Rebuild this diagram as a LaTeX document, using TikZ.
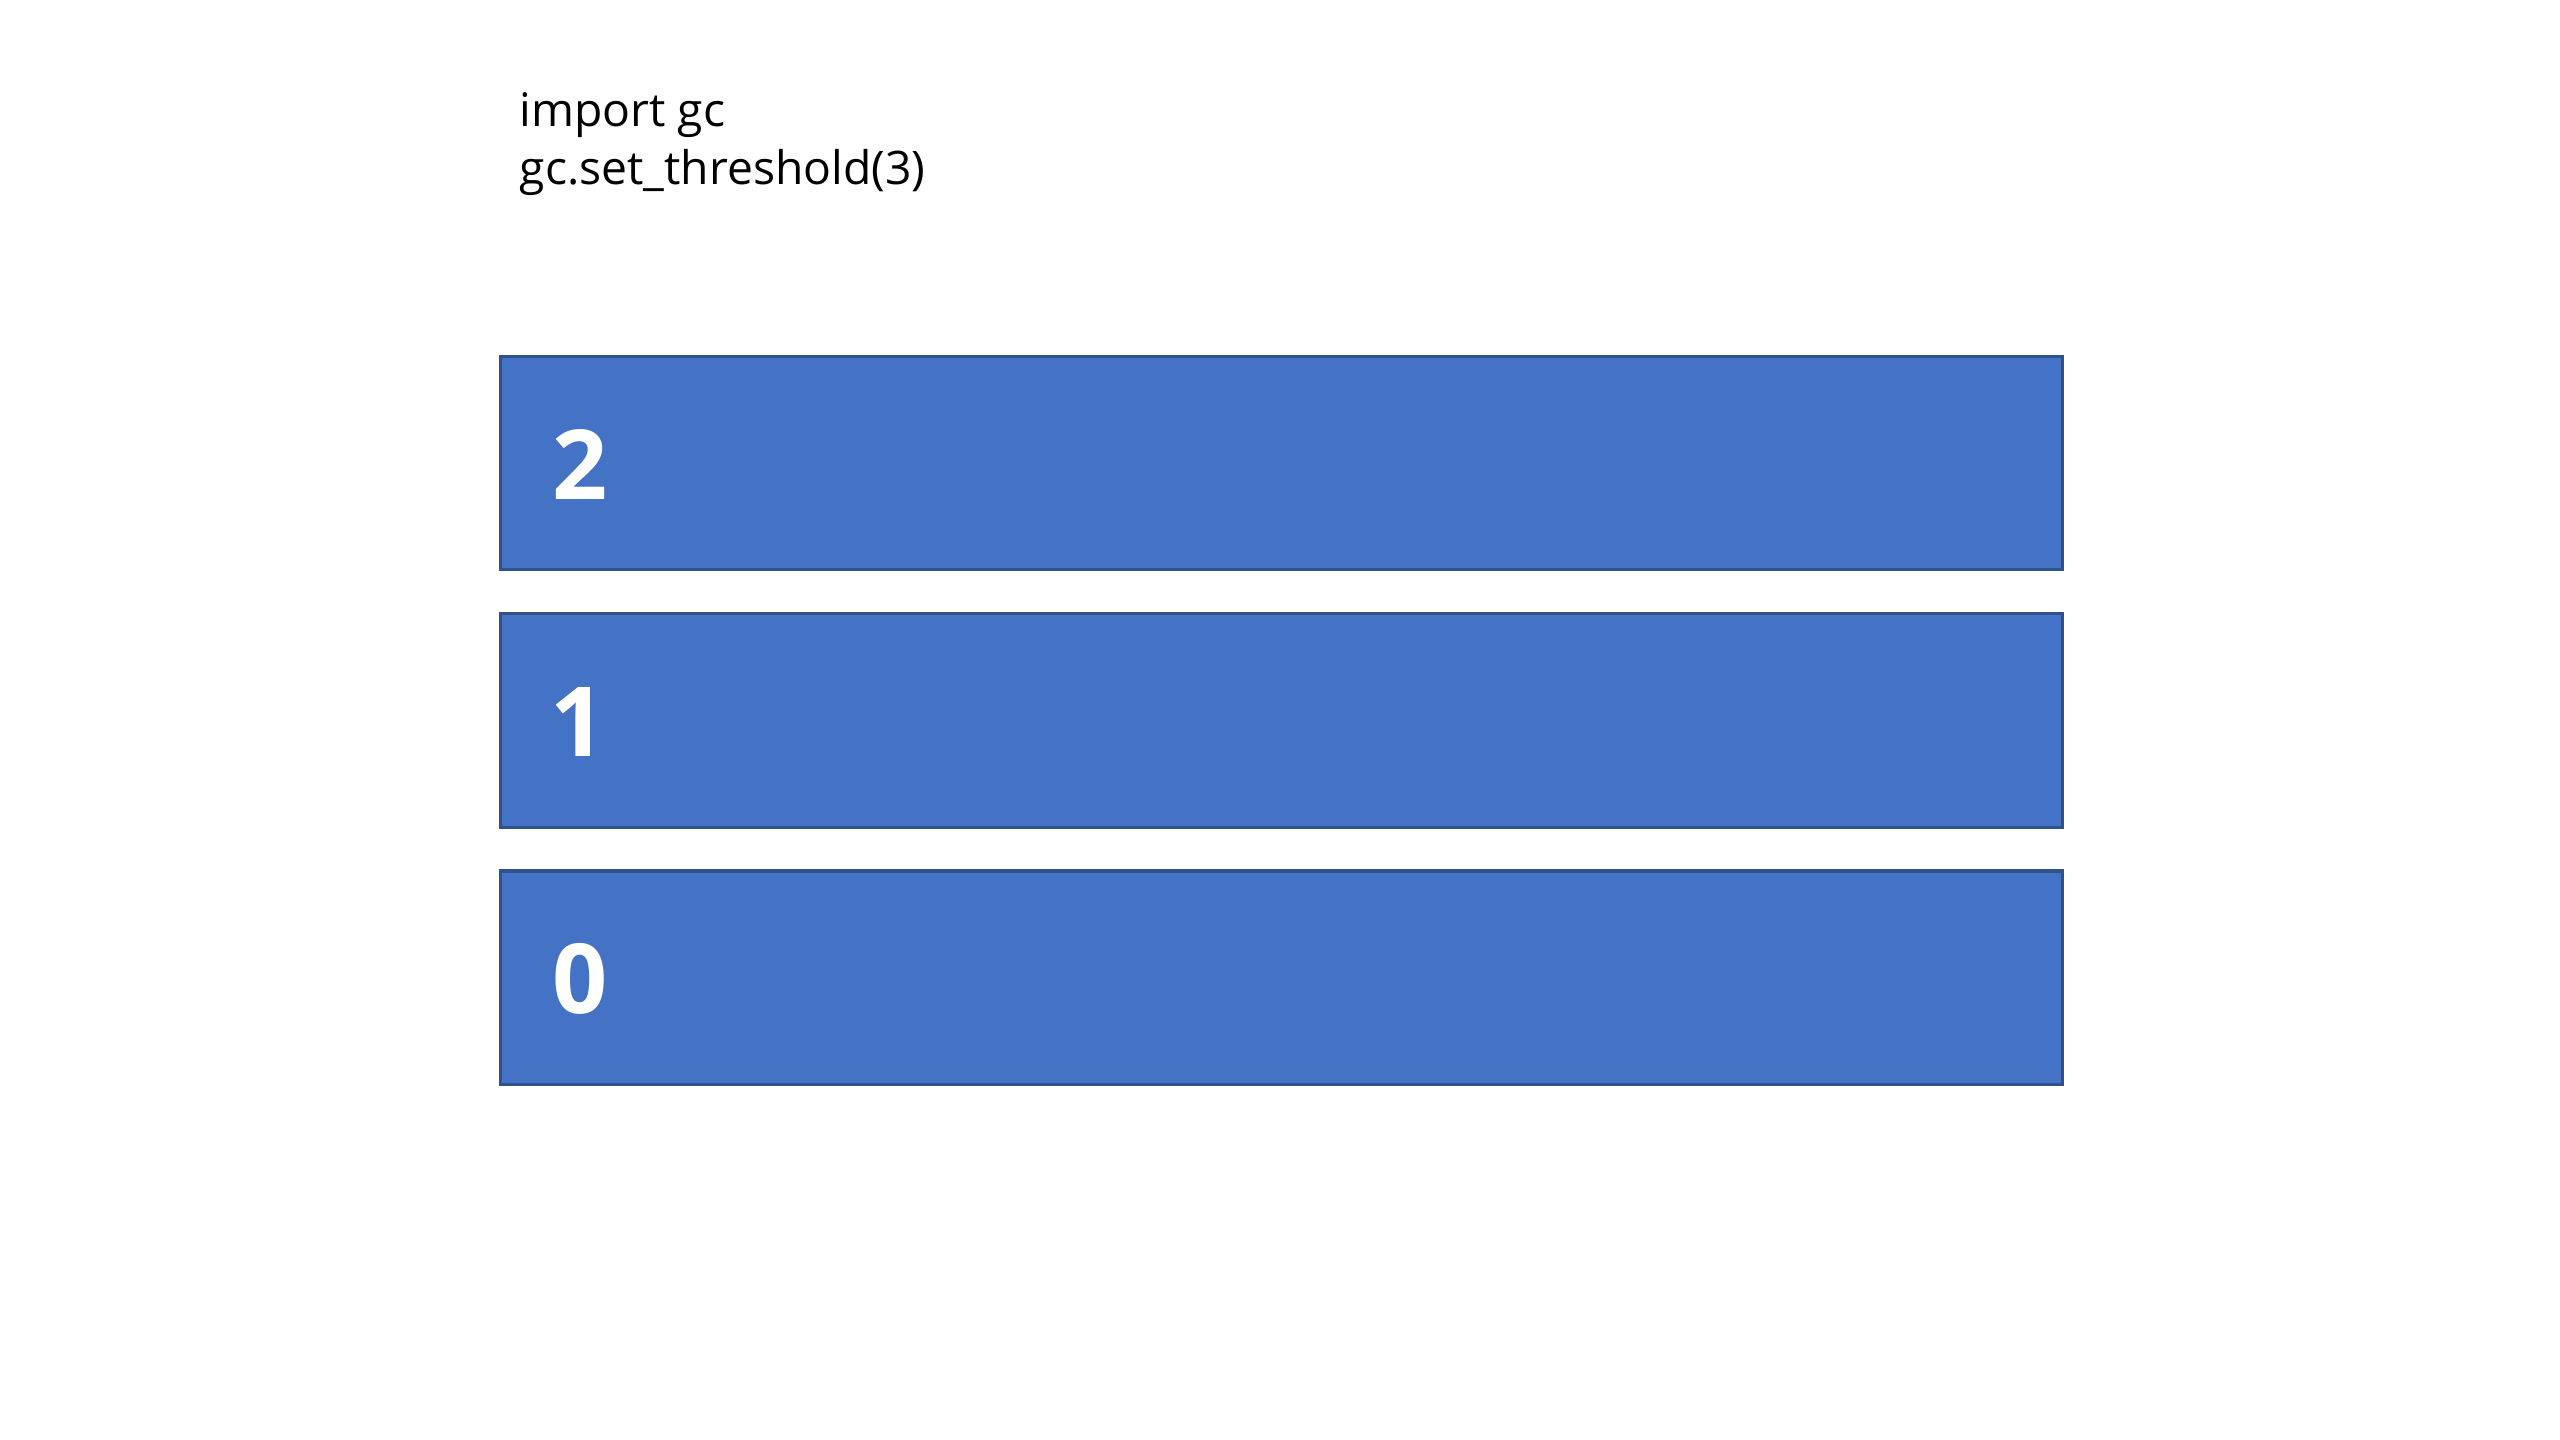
\documentclass[tikz,border=0pt]{standalone}
\usepackage{fontspec}
\setmainfont{Open Sans}
\definecolor{boxfill}{HTML}{4472C4}
\definecolor{boxline}{HTML}{2F528F}
\begin{document}
\begin{tikzpicture}[x=0.01cm,y=-0.01cm,
  stackbox/.style={draw=boxline,fill=boxfill,line width=0.03cm},
  digit/.style={text=white,font=\fontsize{27.5}{33}\selectfont\bfseries,inner sep=0},
  code/.style={anchor=base west,inner sep=0,font=\fontsize{13.15}{18}\selectfont}]
\useasboundingbox[fill=white] (0,0) rectangle (2560,1440);
\node[code] (code1) at (519,127) {import gc};
\node[code] (code2) at (519,185) {gc.set\_threshold(3)};
\draw[stackbox] (500,357) rectangle (2062,570);
\draw[stackbox] (500,614) rectangle (2062,828);
\draw[stackbox] (500,871) rectangle (2062,1084);
\node[digit] (d2) at (580,464) {2};
\node[digit] (d1) at (578,722) {1};
\node[digit] (d0) at (580,979) {0};
\end{tikzpicture}
\end{document}
